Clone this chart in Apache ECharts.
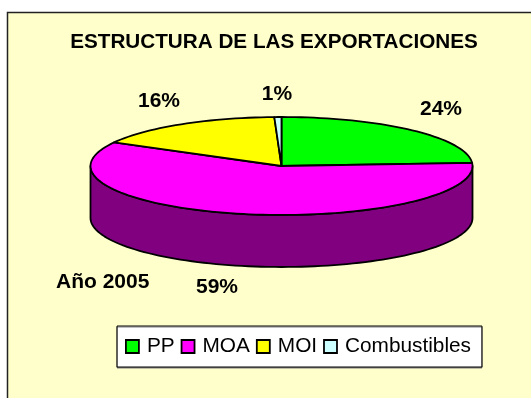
<!DOCTYPE html>
<html><head><meta charset="utf-8">
<style>html,body{margin:0;padding:0;background:#fff}#c{width:531px;height:398px}</style>
<script src="https://cdn.jsdelivr.net/npm/echarts@6/dist/echarts.min.js"></script>
</head><body><div id="c"></div>
<script>
const categories = ['PP', 'MOA', 'MOI', 'Combustibles'];
const values = [24.0, 59.0, 16.4, 0.6];
const topColors = ['#00FF00', '#FF00FF', '#FFFF00', '#CCFFFF'];
const wallColors = ['#008000', '#800080', '#808000', '#669999'];
const titleText = 'ESTRUCTURA DE LAS EXPORTACIONES';
const yearText = 'Año 2005';

const pie = {cx: 281.5, cy: 166, rx: 191, ry: 49, depth: 52};
const labelPos = [[441, 109], [217, 287], [159, 101], [277, 94]];
const font = 'Liberation Sans';
const total = values.reduce((a, b) => a + b, 0);

function pt(deg, dy) {
  const r = deg * Math.PI / 180;
  return [pie.cx + pie.rx * Math.sin(r), pie.cy - pie.ry * Math.cos(r) + (dy || 0)];
}
function arc(a, b, dy) {
  const out = [], n = Math.max(2, Math.ceil(Math.abs(b - a) / 2));
  for (let i = 0; i <= n; i++) out.push(pt(a + (b - a) * i / n, dy));
  return out;
}
function sliceRender(idx) {
  return function (params, api) {
    const before = values.slice(0, idx).reduce((a, b) => a + b, 0);
    const a0 = before / total * 360;
    const a1 = a0 + api.value(0) / total * 360;
    const children = [];
    const w0 = Math.max(a0, 90), w1 = Math.min(a1, 270);
    const line = {stroke: '#000', lineWidth: 1.8, lineJoin: 'round'};
    if (w1 > w0) {
      children.push({type: 'polygon', shape: {points: arc(w0, w1, 0).concat(arc(w1, w0, pie.depth))},
        style: Object.assign({fill: wallColors[idx]}, line)});
    }
    children.push({type: 'polygon', shape: {points: [[pie.cx, pie.cy]].concat(arc(a0, a1, 0))},
      style: Object.assign({fill: topColors[idx]}, line)});
    children.push({type: 'text', z2: 50, style: {x: labelPos[idx][0], y: labelPos[idx][1],
      text: Math.round(api.value(0)) + '%', fill: '#000', font: 'bold 21px "' + font + '"',
      align: 'center', verticalAlign: 'middle'}});
    return {type: 'group', children};
  };
}
const chart = echarts.init(document.getElementById('c'), null, {renderer: 'canvas'});
chart.setOption({
  animation: false,
  backgroundColor: '#fff',
  title: [
    {text: titleText, left: 269, top: 26.5, textAlign: 'center',
      textStyle: {fontFamily: font, fontWeight: 'bold', fontSize: 20.7, color: '#000'}},
    {text: yearText, left: 51, top: 267,
      textStyle: {fontFamily: font, fontWeight: 'bold', fontSize: 21, color: '#000'}}
  ],
  graphic: [{type: 'rect', z: -10, shape: {x: 7.5, y: 12.5, width: 540, height: 400},
    style: {fill: '#FFFFCC', stroke: '#222', lineWidth: 1.5}}],
  legend: {
    left: 117, top: 326, orient: 'horizontal', icon: 'rect',
    itemWidth: 13, itemHeight: 13, itemGap: 6,
    padding: [10, 11, 10, 8],
    backgroundColor: '#fff', borderColor: '#000', borderWidth: 1,
    shadowColor: '#808080', shadowBlur: 0, shadowOffsetY: 1,
    textStyle: {fontFamily: font, fontSize: 20.8, color: '#000', padding: [0, 0, 0, 3]},
    data: categories.map((c, i) => ({name: c, itemStyle: {color: topColors[i], borderColor: '#000', borderWidth: 1.8}}))
  },
  series: categories.map((c, i) => ({
    type: 'custom', name: c, coordinateSystem: 'none',
    itemStyle: {color: topColors[i]},
    renderItem: sliceRender(i),
    data: [[values[i]]]
  }))
});
</script></body></html>
